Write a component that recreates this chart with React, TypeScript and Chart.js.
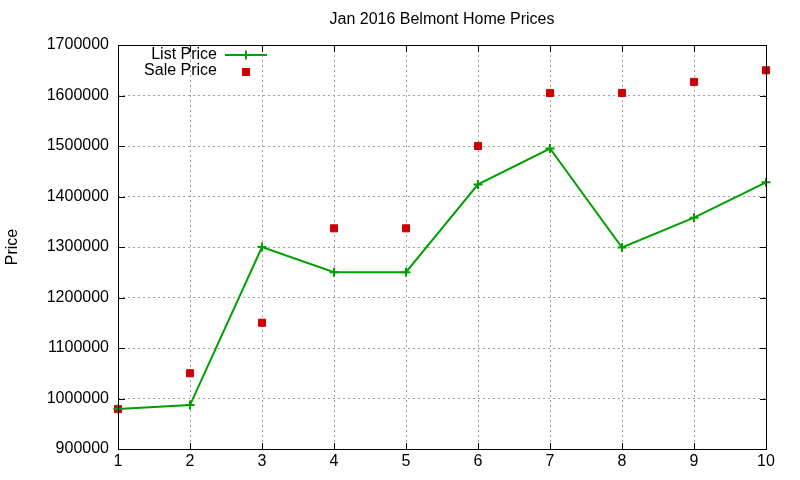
import { useEffect, useRef } from "react";
import { Chart, registerables } from "chart.js";

Chart.register(...registerables);

// data
const days = ["1", "2", "3", "4", "5", "6", "7", "8", "9", "10"];
const listPrice = [979000, 987000, 1300000, 1250000, 1250000, 1424000, 1495000, 1299000, 1358000, 1428000];
const salePrice = [979000, 1050000, 1150000, 1337000, 1337000, 1500000, 1605000, 1605000, 1627000, 1650000];

const chartTitle = "Jan 2016 Belmont Home Prices";
const yTitle = "Price";
const legendLabels = ["List Price", "Sale Price"];

const FONT = "Liberation Sans, Arial, sans-serif";
const FONT_SIZE = 16;
const GREEN = "#00a000";
const RED = "#cc0000";

// gnuplot-ish frame, inward ticks, title, y label and key
const gnuplotDecor = {
  id: "gnuplotDecor",
  afterDraw(chart: any) {
    const { ctx, chartArea: a, scales } = chart;
    const x = scales.x;
    const y = scales.y;
    ctx.save();

    // frame
    ctx.strokeStyle = "#000";
    ctx.lineWidth = 1;
    ctx.setLineDash([]);
    ctx.strokeRect(a.left + 0.5, a.top + 0.5, a.right - a.left, a.bottom - a.top);

    // inward tick marks on all four sides
    ctx.beginPath();
    y.ticks.forEach((t: any) => {
      const py = Math.round(y.getPixelForValue(t.value)) + 0.5;
      ctx.moveTo(a.left, py);
      ctx.lineTo(a.left + 7, py);
      ctx.moveTo(a.right + 1, py);
      ctx.lineTo(a.right - 6, py);
    });
    x.ticks.forEach((_t: any, i: number) => {
      const px = Math.round(x.getPixelForTick(i)) + 0.5;
      ctx.moveTo(px, a.bottom + 1);
      ctx.lineTo(px, a.bottom - 6);
      ctx.moveTo(px, a.top);
      ctx.lineTo(px, a.top + 7);
    });
    ctx.stroke();

    // title
    ctx.fillStyle = "#000";
    ctx.font = `${FONT_SIZE}px ${FONT}`;
    ctx.textAlign = "center";
    ctx.textBaseline = "middle";
    ctx.fillText(chartTitle, (a.left + a.right) / 2, 20);

    // y axis title
    ctx.save();
    ctx.translate(13, (a.top + a.bottom) / 2);
    ctx.rotate(-Math.PI / 2);
    ctx.fillText(yTitle, 0, 0);
    ctx.restore();

    // key
    ctx.textAlign = "right";
    ctx.fillText(legendLabels[0], 217, 55);
    ctx.fillText(legendLabels[1], 217, 71);

    ctx.strokeStyle = GREEN;
    ctx.lineWidth = 2;
    ctx.beginPath();
    ctx.moveTo(225, 55);
    ctx.lineTo(267, 55);
    ctx.moveTo(246, 50.5);
    ctx.lineTo(246, 59.5);
    ctx.stroke();

    ctx.fillStyle = RED;
    ctx.fillRect(242, 68, 8, 8);

    ctx.restore();
  },
};

export default function App() {
  const canvasRef = useRef<HTMLCanvasElement>(null);
  const chartRef = useRef<Chart | null>(null);

  useEffect(() => {
    if (!canvasRef.current) return;
    if (chartRef.current) chartRef.current.destroy();

    chartRef.current = new Chart(canvasRef.current, {
      type: "line",
      data: {
        labels: days,
        datasets: [
          {
            label: legendLabels[0],
            data: listPrice,
            borderColor: GREEN,
            backgroundColor: GREEN,
            borderWidth: 2,
            tension: 0,
            pointStyle: "cross",
            pointRadius: 4.5,
            pointBorderWidth: 2,
            pointBorderColor: GREEN,
            clip: false,
          },
          {
            label: legendLabels[1],
            data: salePrice,
            showLine: false,
            borderColor: RED,
            backgroundColor: RED,
            pointStyle: "rect",
            pointRadius: 5,
            pointBorderWidth: 1,
            clip: false,
          },
        ],
      },
      options: {
        animation: false,
        responsive: true,
        maintainAspectRatio: false,
        layout: { padding: { top: 45, right: 34, left: 0, bottom: 0 } },
        plugins: {
          legend: { display: false },
          title: { display: false },
          tooltip: { enabled: false },
        },
        scales: {
          x: {
            type: "category",
            offset: false,
            grid: { color: "#a0a0a0", drawTicks: false },
            border: { display: false, dash: [2, 3] },
            ticks: {
              color: "#000",
              font: { family: FONT, size: FONT_SIZE },
              padding: 3,
              maxRotation: 0,
              autoSkip: false,
            },
            afterFit: (s: any) => {
              s.height = 31;
            },
          },
          y: {
            min: 900000,
            max: 1700000,
            grid: { color: "#a0a0a0", drawTicks: false },
            border: { display: false, dash: [2, 3] },
            ticks: {
              stepSize: 100000,
              color: "#000",
              font: { family: FONT, size: FONT_SIZE },
              padding: 9,
              callback: (v: any) => String(v),
            },
            afterFit: (s: any) => {
              s.width = 118;
            },
          },
        },
      },
      plugins: [gnuplotDecor],
    });

    return () => {
      chartRef.current?.destroy();
      chartRef.current = null;
    };
  }, []);

  return (
    <div style={{ position: "fixed", left: 0, top: 0, width: 800, height: 480, background: "#fff" }}>
      <canvas ref={canvasRef} />
    </div>
  );
}
